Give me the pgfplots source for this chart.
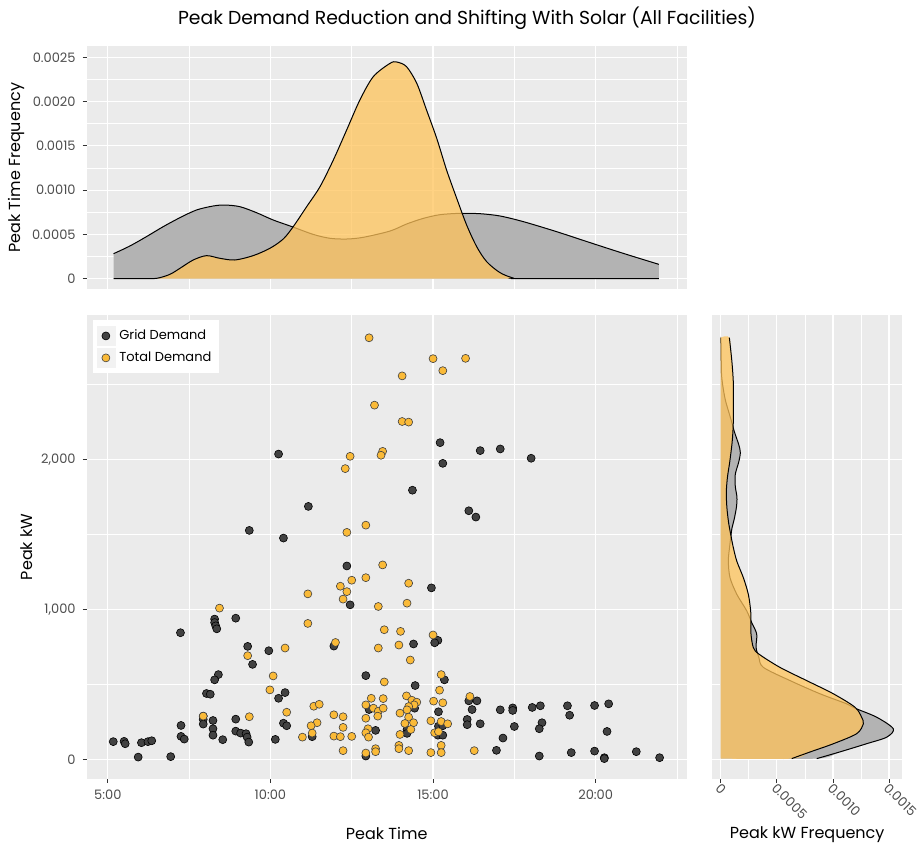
\documentclass[border=0pt]{standalone}
\usepackage{fontspec}
\setmainfont{Poppins}
\usepackage{pgfplots}
\usepackage{pgfplotstable}
\pgfplotsset{compat=1.18}

\definecolor{panelbg}{RGB}{235,235,235}
\definecolor{tickcol}{RGB}{77,77,77}
\definecolor{tickmark}{RGB}{51,51,51}
\definecolor{gridpt}{RGB}{66,66,66}
\definecolor{totpt}{RGB}{250,186,56}
\definecolor{gfill}{RGB}{179,179,179}
\definecolor{ofill}{RGB}{255,195,90}
\definecolor{keybg}{RGB}{242,242,242}

\pgfplotstableread{
t kw
615 2035
670 1686
561 1526
624 1475
913 2111
918 1973
987 2058
1024 2069
1081 2007
862 1794
966 1657
979 1615
741 1289
747 1030
497 935
497 912
499 890
501 870
536 941
434 844
717 755
597 724
558 753
567 633
504 565
497 530
482 439
489 434
615 407
627 445
776 558
782 332
476 288
476 266
476 235
494 259
536 268
435 226
435 153
441 135
494 204
494 161
512 131
536 188
545 175
555 171
557 148
560 115
609 133
624 241
630 224
677 151
776 22
794 193
310 118
330 120
332 104
362 111
374 118
381 124
356 15
416 18
897 1143
864 769
909 793
903 777
921 530
867 492
866 341
852 199
852 173
910 317
910 221
918 224
909 161
918 161
966 390
981 390
972 332
963 266
963 231
987 237
1024 330
1047 343
1047 326
1050 219
1029 142
1017 60
1083 346
1098 357
1101 244
1096 204
1096 22
1148 357
1152 294
1155 45
1198 359
1224 370
1221 186
1198 55
1216 11
1216 5
1275 51
1318 11
}\griddata

\pgfplotstableread{
t kw
782 2810
792 2361
747 2020
738 1938
741 1513
776 1561
900 2671
960 2673
918 2591
843 2556
843 2252
855 2248
807 2053
804 2027
776 1211
750 1194
729 1154
741 1118
734 1068
669 1103
799 1019
506 1008
669 906
720 779
627 742
558 691
799 742
605 556
599 463
786 407
776 363
790 341
799 321
798 288
776 274
630 314
680 354
690 367
717 297
734 284
561 284
476 288
686 244
675 224
677 175
659 148
717 155
729 151
750 153
734 213
734 58
776 42
780 204
776 177
781 148
794 71
794 51
807 1296
855 1174
852 1041
810 864
840 853
837 762
900 829
858 662
915 565
912 461
810 516
808 405
808 341
851 423
861 394
870 381
865 363
855 352
852 330
839 308
855 281
848 239
864 244
859 199
839 166
837 93
837 71
855 58
901 388
918 377
896 257
915 252
927 237
903 177
910 184
915 93
915 45
896 45
968 419
976 58
}\totaldata

\pgfplotstableread{
x y
310.5 0.000282
340.6 0.000369
371 0.000474
402 0.000587
433 0.000689
463.7 0.000776
494.5 0.000821
516 0.000832
543.7 0.000813
574.5 0.000745
605 0.000663
640 0.000587
679 0.000500
710 0.000456
740.6 0.000448
771 0.000467
820.6 0.000538
851 0.000617
882 0.000681
913 0.000723
950 0.000738
986.7 0.000734
1023.6 0.000708
1066.7 0.000644
1128 0.000531
1189.8 0.000407
1251 0.000286
1316.6 0.000162
}\greytop

\pgfplotstableread{
x y
310.5 0
360 0
390 0.000004
414.5 0.000049
433 0.000117
457.5 0.000211
482 0.000260
506.8 0.000230
534.4 0.000211
568 0.000260
599 0.000343
623.6 0.000448
642 0.000587
666.8 0.000813
691.4 0.001039
716 0.001340
740.6 0.001679
765 0.002018
789.8 0.002282
820.6 0.002432
833 0.002447
851 0.002395
870 0.002206
888 0.001905
906.8 0.001585
925 0.001227
943.7 0.000907
962 0.000606
980.6 0.000361
999 0.000192
1023.6 0.000068
1048 0.0000075
1066.7 0
1316.6 0
}\orangetop

\pgfplotsset{
  gg/.style={
    scale only axis,
    axis background/.style={fill=panelbg},
    axis line style={draw=none},
    grid=both,
    major grid style={white, line width=0.6pt},
    minor grid style={white, line width=0.3pt},
    minor tick length=0pt,
    major tick length=2pt,
    tick align=outside,
    tick pos=left,
    tick style={tickmark, line width=0.4pt},
    ticklabel style={font=\fontsize{6.5}{7}\selectfont, text=tickcol},
    label style={font=\fontsize{8}{9}\selectfont, text=black},
    /pgf/number format/assume math mode=true,
  },
  denline/.style={black, line width=0.5pt, smooth},
}

\begin{document}
\begin{tikzpicture}
\useasboundingbox (0,0) rectangle (460.5pt,425pt);

\node[font=\fontsize{9.4}{11}\selectfont] at (233.5pt,416pt) {Peak Demand Reduction and Shifting With Solar (All Facilities)};

% main scatter
\begin{axis}[gg,
  at={(43.35pt,35.5pt)}, anchor=south west,
  width=300pt, height=232pt,
  xmin=261, xmax=1368, ymin=-131, ymax=2962,
  xtick={300,600,900,1200}, xticklabels={5:00,10:00,15:00,20:00},
  minor xtick={450,750,1050,1350},
  ytick={0,1000,2000}, yticklabels={0,{1,000},{2,000}},
  minor ytick={500,1500,2500},
  xlabel={Peak Time}, ylabel={Peak kW},
  xlabel style={at={(axis description cs:0.5,-0.1164)}, anchor=center},
  ylabel style={at={(axis description cs:-0.0995,0.5)}, anchor=center},
  legend style={at={(axis description cs:0.009,0.989)}, anchor=north west,
    draw=none, fill=white, font=\fontsize{6.5}{7}\selectfont,
    inner xsep=2pt, inner ysep=2.5pt, row sep=0.6pt},
  legend cell align=left,
  legend image code/.code={
    \fill[keybg] (0pt,-4.8pt) rectangle (9pt,4.8pt);
    \draw[mark repeat=2,mark phase=2,#1] plot coordinates {(0pt,0pt) (4.5pt,0pt) (9pt,0pt)};
  },
]
\addplot[only marks, mark=*, mark size=2pt,
  mark options={fill=gridpt, draw=black, line width=0.3pt}] table[x=t,y=kw] {\griddata};
\addlegendentry{Grid Demand}
\addplot[only marks, mark=*, mark size=2pt,
  mark options={fill=totpt, draw=black!75, line width=0.3pt}] table[x=t,y=kw] {\totaldata};
\addlegendentry{Total Demand}
\end{axis}

% top density
\begin{axis}[gg,
  at={(43.35pt,280.25pt)}, anchor=south west,
  width=300pt, height=121.75pt,
  xmin=261, xmax=1368, ymin=-0.000122, ymax=0.002628,
  xtick={300,600,900,1200}, xticklabels={},
  minor xtick={450,750,1050,1350},
  xtick style={draw=none},
  ytick={0,0.0005,0.001,0.0015,0.002,0.0025},
  yticklabels={0,0.0005,0.0010,0.0015,0.0020,0.0025},
  minor ytick={0.00025,0.00075,0.00125,0.00175,0.00225},
  scaled y ticks=false,
  ylabel={Peak Time Frequency},
  ylabel style={at={(axis description cs:-0.1162,0.5)}, anchor=center},
]
\addplot[fill=gfill, draw=none, smooth] table[x=x,y=y] {\greytop} \closedcycle;
\addplot[denline] table[x=x,y=y] {\greytop};
\addplot[fill=ofill, fill opacity=0.75, draw=none, smooth] table[x=x,y=y] {\orangetop} \closedcycle;
\addplot[denline] table[x=x,y=y] {\orangetop};
\end{axis}

% right density
\begin{axis}[gg,
  at={(356.15pt,35.5pt)}, anchor=south west,
  width=94.85pt, height=232pt,
  xmin=-0.0000749, xmax=0.001616, ymin=-131, ymax=2962,
  xtick={0,0.0005,0.001,0.0015}, xticklabels={0,0.0005,0.0010,0.0015},
  minor xtick={0.00025,0.00075,0.00125},
  scaled x ticks=false,
  ytick={0,1000,2000}, yticklabels={},
  minor ytick={500,1500,2500},
  ytick style={draw=none},
  xticklabel style={rotate=-45, anchor=north west, inner sep=0.8pt, yshift=1.5pt, xshift=-1pt},
  xlabel={Peak kW Frequency},
  xlabel style={at={(axis description cs:0.5,-0.1190)}, anchor=center},
]
\addplot[fill=gfill, draw=none, smooth] coordinates {
(0,5) (0.000856,5) (0.00106,49) (0.0013,104) (0.00148,148) (0.001538,204) (0.00139,281) (0.0012,340) (0.001123,370) (0.000885,437) (0.000618,525) (0.00038,613) (0.00034,680) (0.000315,747) (0.000321,835) (0.000276,912) (0.000232,990) (0.000143,1101) (0.000083,1211) (0.000068,1322) (0.00008,1420) (0.000092,1496) (0.0001,1540) (0.00012,1600) (0.00014,1680) (0.000145,1747) (0.00013,1820) (0.00013,1900) (0.00016,1980) (0.000175,2045) (0.00016,2100) (0.000122,2183) (0.00009,2270) (0.00004,2400) (0.00001,2540) (0.000005,2650) (0.000002,2811) (0,2811)} -- cycle;
\addplot[denline] coordinates {
(0.000856,5) (0.00106,49) (0.0013,104) (0.00148,148) (0.001538,204) (0.00139,281) (0.0012,340) (0.001123,370) (0.000885,437) (0.000618,525) (0.00038,613) (0.00034,680) (0.000315,747) (0.000321,835) (0.000276,912) (0.000232,990) (0.000143,1101) (0.000083,1211) (0.000068,1322) (0.00008,1420) (0.000092,1496) (0.0001,1540) (0.00012,1600) (0.00014,1680) (0.000145,1747) (0.00013,1820) (0.00013,1900) (0.00016,1980) (0.000175,2045) (0.00016,2100) (0.000122,2183) (0.00009,2270) (0.00004,2400) (0.00001,2540) (0.000005,2650) (0.000002,2811)};
\addplot[fill=ofill, fill opacity=0.75, draw=none, smooth] coordinates {
(0,5) (0.000633,5) (0.000796,49) (0.001004,104) (0.001212,171) (0.001271,237) (0.001256,281) (0.001196,348) (0.001004,437) (0.000766,525) (0.000528,613) (0.00034,702) (0.00029,747) (0.00027,835) (0.00027,900) (0.000267,990) (0.000246,1101) (0.000202,1211) (0.000143,1322) (0.00011,1420) (0.00009,1496) (0.00007,1580) (0.000055,1680) (0.00005,1780) (0.00006,1880) (0.00008,1980) (0.0001,2100) (0.00011,2200) (0.000113,2300) (0.000113,2500) (0.0001,2650) (0.000077,2811) (0,2811)} -- cycle;
\addplot[denline] coordinates {
(0.000633,5) (0.000796,49) (0.001004,104) (0.001212,171) (0.001271,237) (0.001256,281) (0.001196,348) (0.001004,437) (0.000766,525) (0.000528,613) (0.00034,702) (0.00029,747) (0.00027,835) (0.00027,900) (0.000267,990) (0.000246,1101) (0.000202,1211) (0.000143,1322) (0.00011,1420) (0.00009,1496) (0.00007,1580) (0.000055,1680) (0.00005,1780) (0.00006,1880) (0.00008,1980) (0.0001,2100) (0.00011,2200) (0.000113,2300) (0.000113,2500) (0.0001,2650) (0.000077,2811)};
\end{axis}
\end{tikzpicture}
\end{document}
